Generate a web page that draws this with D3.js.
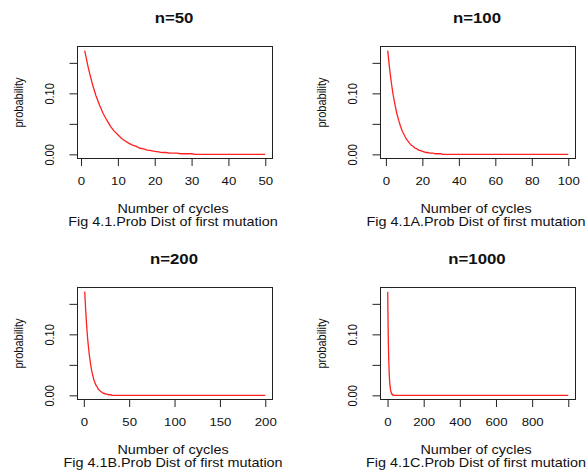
<!DOCTYPE html>
<html>
<head>
<meta charset="utf-8">
<script src="https://cdnjs.cloudflare.com/ajax/libs/d3/7.8.5/d3.min.js"></script>
<style>
  body { margin: 0; background: #fff; }
  text { font-family: "Liberation Sans", Arial, sans-serif; fill: #111; }
</style>
</head>
<body>
<div id="chart"></div>
<script>
// probability of first mutation at cycle k (k = 1, 2, ...)
var probability = [0.170, 0.141, 0.117, 0.097, 0.081, 0.067, 0.056, 0.046, 0.038, 0.032,
                   0.026, 0.022, 0.018, 0.015, 0.013, 0.010, 0.009, 0.007, 0.006, 0.005,
                   0.004, 0.003, 0.003, 0.002, 0.002, 0.002, 0.001, 0.001, 0.001, 0.001, 0.000];

var cycleCounts = [50, 100, 200, 1000];
var titles = ["n=50", "n=100", "n=200", "n=1000"];
var captions = ["Fig 4.1.Prob Dist of first mutation", "Fig 4.1A.Prob Dist of first mutation",
                "Fig 4.1B.Prob Dist of first mutation", "Fig 4.1C.Prob Dist of first mutation"];

var xTickValues = [[0, 10, 20, 30, 40, 50],
                   [0, 20, 40, 60, 80, 100],
                   [0, 50, 100, 150, 200],
                   [0, 200, 400, 600, 800, 1000]];
var xTickLabels = [["0", "10", "20", "30", "40", "50"],
                   ["0", "20", "40", "60", "80", "100"],
                   ["0", "50", "100", "150", "200"],
                   ["0", "200", "400", "600", "800", ""]];
var yTickValues = [0, 0.05, 0.10, 0.15];
var yTickLabels = ["0.00", "", "0.10", ""];

var width = 587;
var height = 470;
var box = {left: 77.5, right: 272.5, top: 46.5, bottom: 158.5};
var offsets = [[0, 0], [303, 0], [0, 241], [303, 241]];
var sx = 1.2; // picture is stretched sideways
var ink = "#222";

var svg = d3.select("#chart")
    .append("svg")
    .attr("width", width)
    .attr("height", height);

svg.append("rect").attr("width", width).attr("height", height).attr("fill", "#fff");

var hText = function(g, x, y, str, size, weight) {
    return g.append("text")
        .attr("transform", "translate(" + x + "," + y + ") scale(" + sx + ",1)")
        .attr("text-anchor", "middle")
        .style("font-size", size + "px")
        .style("font-weight", weight || "normal")
        .text(str);
};

var yMax = d3.max(probability);
var midX = (box.left + box.right) / 2;
var midY = (box.top + box.bottom) / 2;

cycleCounts.forEach(function(n, i) {
    var g = svg.append("g")
        .attr("transform", "translate(" + offsets[i][0] + "," + offsets[i][1] + ")");

    // R style 4% padding on both axes
    var pad = 0.04 * (n - 1);
    var x = d3.scaleLinear().domain([1 - pad, n + pad]).range([box.left, box.right]);
    var y = d3.scaleLinear().domain([-0.04 * yMax, 1.04 * yMax]).range([box.bottom, box.top]);

    var xAxis = g.append("g")
        .attr("transform", "translate(0," + box.bottom + ")")
        .style("color", ink)
        .call(d3.axisBottom(x)
            .tickValues(xTickValues[i])
            .tickFormat(function(d, j) { return xTickLabels[i][j]; })
            .tickSize(7.5)
            .tickSizeOuter(0));
    xAxis.select(".domain").remove();
    xAxis.selectAll("text")
        .attr("y", null).attr("dy", null)
        .attr("transform", "translate(0,26.5) scale(" + sx + ",1)")
        .style("font-size", "11px")
        .style("font-family", null);

    var yAxis = g.append("g")
        .attr("transform", "translate(" + box.left + ",0)")
        .style("color", ink)
        .call(d3.axisLeft(y)
            .tickValues(yTickValues)
            .tickFormat(function(d, j) { return yTickLabels[j]; })
            .tickSize(8)
            .tickSizeOuter(0));
    yAxis.select(".domain").remove();
    yAxis.selectAll("text")
        .attr("x", null).attr("dy", null)
        .attr("text-anchor", "middle")
        .attr("transform", "translate(-24,0) scale(" + sx + ",1) rotate(-90)")
        .style("font-size", "11px")
        .style("font-family", null);

    g.append("rect")
        .attr("x", box.left)
        .attr("y", box.top)
        .attr("width", box.right - box.left)
        .attr("height", box.bottom - box.top)
        .attr("fill", "none")
        .attr("stroke", ink)
        .attr("stroke-width", 1);

    var pts = probability.map(function(p, k) { return [k + 1, p]; });
    pts.push([n, 0]);

    g.append("path")
        .datum(pts)
        .attr("fill", "none")
        .attr("stroke", "#ff2020")
        .attr("stroke-width", 1.3)
        .attr("d", d3.line()
            .x(function(d) { return x(d[0]); })
            .y(function(d) { return y(d[1]); }));

    hText(g, midX - 1, 23.3, titles[i], 14, "bold");
    hText(g, midX - 2, 212.5, "Number of cycles", 12);
    hText(g, midX - 2, 226, captions[i], 12);

    g.append("text")
        .attr("transform", "translate(23," + midY + ") scale(" + sx + ",1) rotate(-90)")
        .attr("text-anchor", "middle")
        .style("font-size", "11px")
        .text("probability");
});
</script>
</body>
</html>
